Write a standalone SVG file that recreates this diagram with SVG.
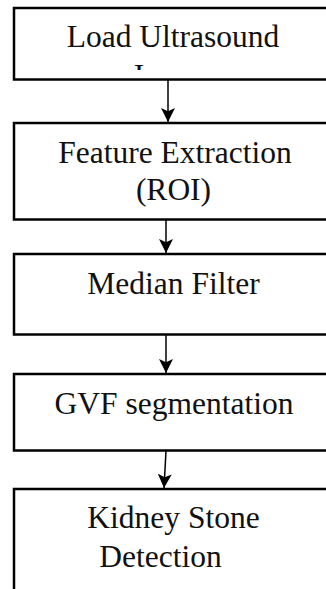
<svg xmlns="http://www.w3.org/2000/svg" width="326" height="589" viewBox="0 0 326 589">
<style>
.box{fill:#fff;stroke:#000;stroke-width:2.5}
.t{font-family:"Liberation Serif","Times New Roman",serif;font-size:31.5px;fill:#111;text-anchor:middle}
.c{stroke:#000;stroke-width:1.5;fill:none;marker-end:url(#ah)}
</style>
<defs>
<marker id="ah" markerUnits="userSpaceOnUse" markerWidth="14" markerHeight="14" viewBox="0 0 13 13" refX="13" refY="6.5" orient="auto">
<path d="M0,0 L13,6.5 L0,13 L3,6.5 z" fill="#000"/>
</marker>
<clipPath id="clip1"><rect x="0" y="0" width="326" height="70"/></clipPath>
</defs>
<rect width="326" height="589" fill="#fff"/>
<g id="connectors">
<line class="c" x1="168" y1="80" x2="168" y2="122"/>
<line class="c" x1="166" y1="220" x2="166" y2="253"/>
<line class="c" x1="166" y1="335" x2="166" y2="373"/>
<line class="c" x1="166" y1="451" x2="164" y2="488"/>
</g>
<g id="n1">
<rect class="box" x="14" y="8" width="330" height="71.5"/>
<text class="t" x="173" y="46.5">Load Ultrasound</text>
<text class="t" x="173" y="86" clip-path="url(#clip1)">Image</text>
</g>
<g id="n2">
<rect class="box" x="14" y="123" width="330" height="96.5"/>
<text class="t" x="175" y="162.5">Feature Extraction</text>
<text class="t" x="173.5" y="200">(ROI)</text>
</g>
<g id="n3">
<rect class="box" x="14" y="254" width="330" height="80.5"/>
<text class="t" x="173.5" y="294">Median Filter</text>
</g>
<g id="n4">
<rect class="box" x="14" y="374" width="330" height="76.5"/>
<text class="t" x="174" y="414">GVF segmentation</text>
</g>
<g id="n5">
<rect class="box" x="14" y="489" width="330" height="120"/>
<text class="t" x="173.5" y="527.5">Kidney Stone</text>
<text class="t" x="160.5" y="566.5">Detection</text>
</g>
</svg>
